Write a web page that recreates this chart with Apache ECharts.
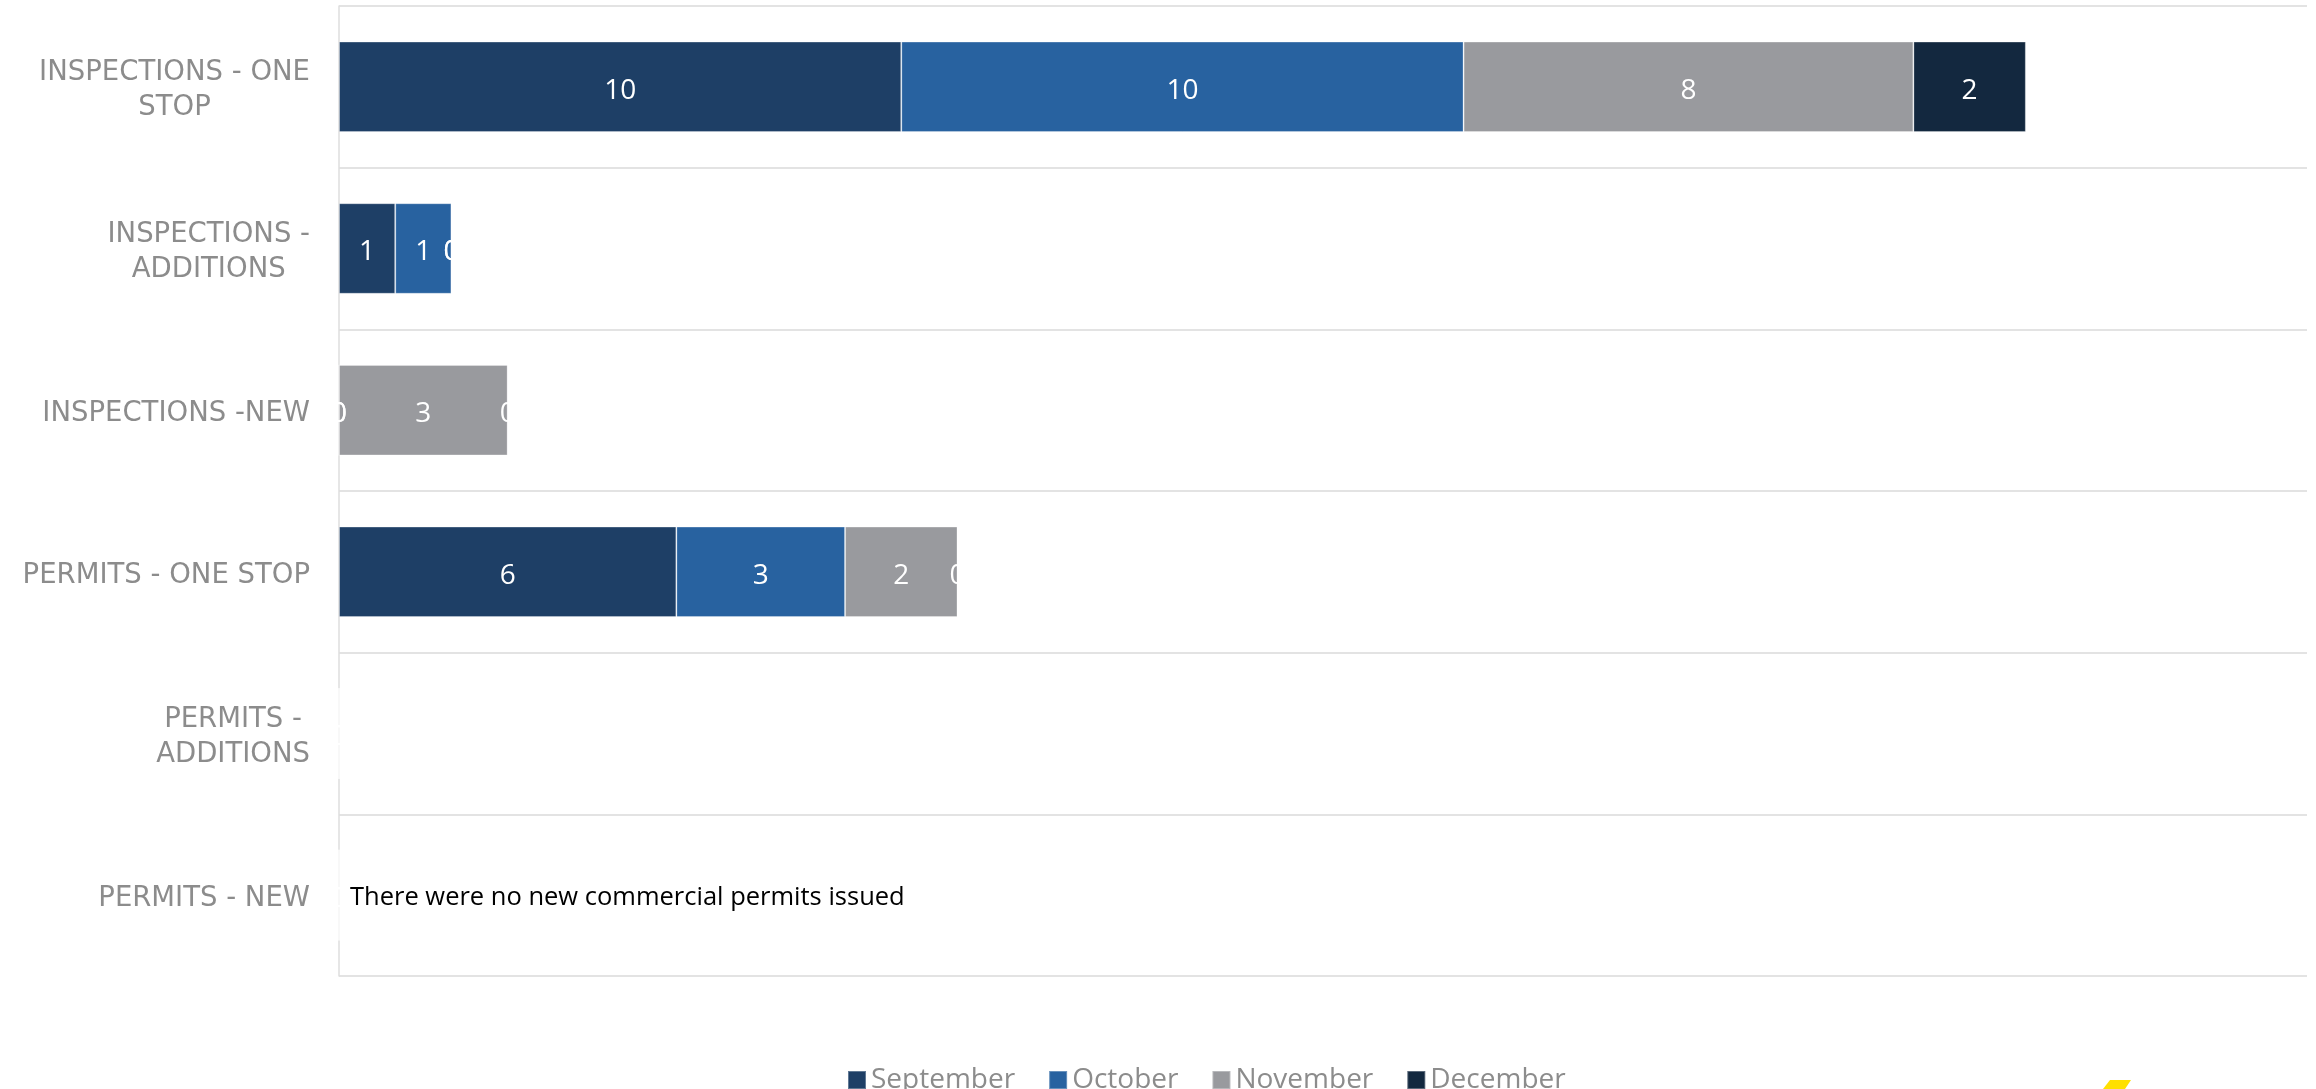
<!DOCTYPE html>
<html>
<head>
<meta charset="utf-8">
<script src="https://cdn.jsdelivr.net/npm/echarts@6/dist/echarts.min.js"></script>
<style>
  html, body { margin: 0; padding: 0; background: #fff; }
  #chart { width: 2316px; height: 1089px; }
</style>
</head>
<body>
<div id="chart"></div>
<script>
// categories, top to bottom
var categories = [
  'INSPECTIONS - ONE\nSTOP',
  'INSPECTIONS -\nADDITIONS',
  'INSPECTIONS -NEW',
  'PERMITS - ONE STOP',
  'PERMITS -\nADDITIONS',
  'PERMITS - NEW'
];
var months = ['September', 'October', 'November', 'December'];
var september = [10, 1, 0, 6, 0, 0];
var october   = [10, 1, 0, 3, 0, 0];
var november  = [8, 0, 3, 2, 0, 0];
var december  = [2, 0, 0, 0, 0, 0];
var colors = ['#1e3f66', '#2862a0', '#999a9e', '#13283f'];
var note = 'There were no new commercial permits issued';

var chart = echarts.init(document.getElementById('chart'));

function makeSeries(name, values, idx) {
  return {
    name: name,
    type: 'bar',
    stack: 'total',
    barWidth: '56%',
    data: values,
    itemStyle: {
      color: colors[idx],
      borderColor: 'rgba(255,255,255,0.3)',
      borderWidth: 1
    },
    label: {
      show: true,
      position: 'inside',
      offset: [0, 4],
      color: '#ffffff',
      fontFamily: 'Open Sans',
      fontSize: 28,
      textBorderWidth: 0
    }
  };
}

var option = {
  animation: false,
  color: colors,
  grid: { left: 339, right: 9, top: 6, bottom: 113, containLabel: false },
  legend: {
    data: months,
    left: 842,
    top: 1061,
    icon: 'rect',
    itemWidth: 18,
    itemHeight: 18,
    itemGap: 33,
    textStyle: { color: '#8c8c8c', fontFamily: 'Open Sans', fontSize: 28, lineHeight: 28 }
  },
  xAxis: {
    type: 'value',
    min: 0,
    max: 35,
    show: false
  },
  yAxis: {
    type: 'category',
    inverse: true,
    data: categories,
    axisLine: { show: true, lineStyle: { color: '#dedede', width: 1.5 } },
    axisTick: { show: false },
    splitLine: { show: true, lineStyle: { color: '#e3e3e3', width: 2 } },
    axisLabel: {
      margin: 29,
      padding: [8, 0, 0, 0],
      formatter: function (v) {
        return v.split('\n').map(function (s) { return '{c|' + s + '}'; }).join('\n');
      },
      rich: {
        c: {
          align: 'center',
          color: '#8c8c8c',
          fontFamily: 'DejaVu Sans',
          fontSize: 27.5,
          lineHeight: 35
        }
      }
    }
  },
  series: [
    makeSeries(months[0], september, 0),
    makeSeries(months[1], october, 1),
    makeSeries(months[2], november, 2),
    makeSeries(months[3], december, 3)
  ]
};

chart.setOption(option);

// note text placed in the empty 'PERMITS - NEW' row
var noteY = chart.convertToPixel({ yAxisIndex: 0 }, categories[5]);
var noteX = chart.convertToPixel({ xAxisIndex: 0 }, 0) + 11;
chart.setOption({
  graphic: [
    {
      type: 'text',
      x: noteX,
      y: noteY + 3,
      style: {
        text: note,
        fill: '#000000',
        fontFamily: 'Open Sans',
        fontSize: 25.5,
        verticalAlign: 'middle'
      }
    },
    {
      // small yellow logo fragment at the bottom edge
      type: 'polygon',
      shape: { points: [[2110, 1080], [2131, 1080], [2125, 1089], [2103, 1089]] },
      style: { fill: '#ffe000' }
    }
  ]
});
</script>
</body>
</html>
